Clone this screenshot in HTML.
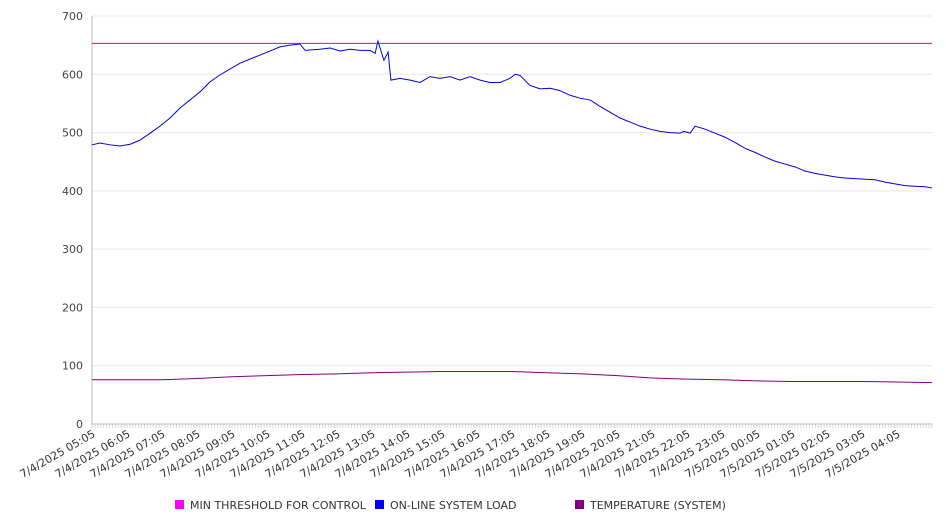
<!DOCTYPE html>
<html><head><meta charset="utf-8"><style>
html,body{margin:0;padding:0;background:#fff;}
svg{display:block;font-family:"DejaVu Sans","Liberation Sans",sans-serif;}
</style></head><body>
<svg id="chart" width="946" height="526" viewBox="0 0 946 526" xmlns="http://www.w3.org/2000/svg">
<g id="grid"></g>
<g id="yaxis"></g>
<g id="xaxis"></g>
<g id="series"></g>
<g id="legend"></g>
</svg>
<script>
const yTicks=[0,100,200,300,400,500,600,700];
const xLabels=["7/4/2025 05:05","7/4/2025 06:05","7/4/2025 07:05","7/4/2025 08:05","7/4/2025 09:05","7/4/2025 10:05","7/4/2025 11:05","7/4/2025 12:05","7/4/2025 13:05","7/4/2025 14:05","7/4/2025 15:05","7/4/2025 16:05","7/4/2025 17:05","7/4/2025 18:05","7/4/2025 19:05","7/4/2025 20:05","7/4/2025 21:05","7/4/2025 22:05","7/4/2025 23:05","7/5/2025 00:05","7/5/2025 01:05","7/5/2025 02:05","7/5/2025 03:05","7/5/2025 04:05"];
const thresholdValue=653;
// hours since 05:05
const loadHours=[0,0.23,0.51,0.8,1.09,1.37,1.66,1.94,2.23,2.51,2.8,3.09,3.37,3.66,3.94,4.23,4.51,4.8,5.09,5.37,5.66,5.94,6.09,6.51,6.8,7.09,7.37,7.66,7.94,8.09,8.17,8.34,8.46,8.54,8.8,9.09,9.37,9.66,9.94,10.23,10.51,10.8,11.09,11.37,11.66,11.94,12.09,12.23,12.51,12.8,13.09,13.37,13.66,13.94,14.23,14.51,14.8,15.09,15.37,15.66,15.94,16.23,16.51,16.8,16.91,17.09,17.23,17.51,17.8,18.09,18.37,18.66,18.94,19.23,19.51,19.8,20.09,20.37,20.66,20.94,21.23,21.51,21.8,22.09,22.37,22.66,22.94,23.23,23.51,23.8,24.0];
const loadValues=[479,482,479,477,480,487,499,511,525,542,556,570,587,599,609,619,626,633,640,647,650,652,641,643,645,640,643,641,641,636,657,624,638,590,593,590,586,596,593,596,590,596,590,586,586,593,600,598,581,575,576,572,564,559,556,545,535,525,518,511,506,502,500,499,502,499,511,506,499,492,483,473,466,458,451,446,441,434,430,427,424,422,421,420,419,415,412,409,408,407,405];
const tempHours=[0,1,2,3,4,5,6,7,8,9,10,11,12,13,14,15,16,17,18,19,20,21,22,23,24];
const tempValues=[76,76,76,78,81,83,85,86,88,89,90,90,90,88,86,83,79,77,76,74,73,73,73,72,71];

const svg=document.getElementById('chart');
const NS='http://www.w3.org/2000/svg';
const X0=92,X1=932,Y0=424,Y1=16;
const xScale=h=>X0+h*(X1-X0)/24;
const yScale=v=>Y0-(v/700)*(Y0-Y1);
function mk(tag,attrs,parent){const e=document.createElementNS(NS,tag);for(const k in attrs)e.setAttribute(k,attrs[k]);parent.appendChild(e);return e;}
const grid=document.getElementById('grid'),yaxis=document.getElementById('yaxis'),xaxis=document.getElementById('xaxis'),series=document.getElementById('series'),legend=document.getElementById('legend');

yTicks.forEach(v=>{
  const g=mk('line',{x1:X0,x2:X1,y1:yScale(v),y2:yScale(v),stroke:v===0?'#bbb':'#e8e8e8','stroke-width':1},grid);
  
  
  const t=mk('text',{x:83,y:yScale(v)+4,'text-anchor':'end','font-size':11,fill:'#444'},yaxis);
  t.textContent=v;
  
  
});
const ax=mk('line',{x1:X0,x2:X0,y1:Y1,y2:Y0,stroke:'#bbb','stroke-width':1},yaxis);



for(let i=0;i<=288;i++){
  const x=xScale(i/12);
  const tk=mk('line',{x1:x,x2:x,y1:Y0,y2:Y0+4,stroke:'#ccc','stroke-width':0.8},xaxis);
  
  
}
xLabels.forEach((s,i)=>{
  const x=xScale(i)+4,y=Y0+12;
  const t=mk('text',{x:x,y:y,'text-anchor':'end','font-size':11,fill:'#333',transform:`rotate(-30 ${x} ${y})`},xaxis);
  t.textContent=s;
  
  
});

const th=mk('line',{x1:X0,x2:X1,y1:yScale(thresholdValue),y2:yScale(thresholdValue),stroke:'#d000d0','stroke-width':1},series);



const lp=mk('polyline',{points:loadHours.map((h,i)=>xScale(h)+','+yScale(loadValues[i])).join(' '),fill:'none',stroke:'#0000dd','stroke-width':1},series);



const tp=mk('polyline',{points:tempHours.map((h,i)=>xScale(h)+','+yScale(tempValues[i])).join(' '),fill:'none',stroke:'#800080','stroke-width':1},series);



const leg=[["MIN THRESHOLD FOR CONTROL","#ff00ff",175],["ON-LINE SYSTEM LOAD","#0000ff",375],["TEMPERATURE (SYSTEM)","#800080",575]];
leg.forEach(l=>{
  const r=mk('rect',{x:l[2],y:500,width:9,height:9,fill:l[1]},legend);
  
  
  const t=mk('text',{x:l[2]+15,y:509,'font-size':11,fill:'#333'},legend);
  t.textContent=l[0];
  
  
});
</script>
</body></html>
